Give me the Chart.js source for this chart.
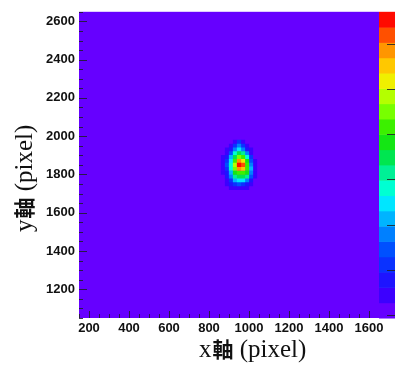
<!DOCTYPE html>
<html>
<head>
<meta charset="utf-8">
<script src="https://cdn.jsdelivr.net/npm/chart.js@4.4.0/dist/chart.umd.min.js"></script>
<style>
  body { margin: 0; background: #fff; }
  canvas { display: block; }
</style>
</head>
<body>
<canvas id="myChart" width="395" height="370"></canvas>
<script>
// axis ranges and tick labels
const xRange = [150, 1650];
const yRange = [1050, 2650];
const xTicks = [200, 400, 600, 800, 1000, 1200, 1400, 1600];
const yTicks = [1200, 1400, 1600, 1800, 2000, 2200, 2400, 2600];
// colour-axis ticks (in palette levels, labels fall outside the picture)
const zTicks = [0.2, 3.15, 6.1, 9.05, 12, 14.95, 17.9];
const zLevels = 20;

// bin centres (bin width 20 px on both axes)
const xBins = [870, 890, 910, 930, 950, 970, 990, 1010, 1030];
const yBins = [1970, 1950, 1930, 1910, 1890, 1870, 1850, 1830, 1810, 1790, 1770, 1750, 1730];
// content of each bin (palette level 0..19)
const counts = [
  [0, 0, 0, 1, 3, 1, 0, 0, 0],
  [0, 0, 1, 3, 5, 3, 1, 0, 0],
  [0, 1, 2, 5, 7, 5, 2, 1, 0],
  [0, 1, 4, 8, 10, 9, 5, 1, 0],
  [1, 2, 6, 10, 13, 12, 8, 3, 0],
  [1, 3, 7, 12, 17, 15, 11, 4, 1],
  [1, 4, 8, 14, 19, 18, 12, 5, 1],
  [1, 3, 8, 13, 17, 16, 12, 6, 1],
  [1, 2, 6, 11, 12, 12, 11, 5, 1],
  [0, 2, 5, 9, 10, 10, 9, 4, 1],
  [0, 1, 3, 6, 7, 7, 5, 2, 0],
  [0, 1, 2, 3, 4, 3, 2, 1, 0],
  [0, 0, 1, 1, 1, 1, 1, 0, 0]
];

// ROOT like rainbow palette, lowest level first
const palette = [
  '#6600ff', '#3c00ff', '#1e14ff', '#0a32ff', '#0050ff', '#0080ff', '#00b4ff', '#00e6ff',
  '#00ffd2', '#00f096', '#00e650', '#14e614', '#3cf000', '#78ff00', '#b4ff00', '#f0f000',
  '#ffc800', '#ff9600', '#ff5000', '#ff0a00'
];

const cells = [];
yBins.forEach((y, i) => {
  xBins.forEach((x, j) => {
    if (counts[i][j] > 0) cells.push({ x: x, y: y, v: counts[i][j] });
  });
});
cells.sort((a, b) => a.v - b.v);

const rootStyle = {
  id: 'rootStyle',
  beforeDatasetsDraw(chart) {
    const { ctx, chartArea: a } = chart;
    ctx.save();
    ctx.fillStyle = palette[0];
    ctx.fillRect(a.left, a.top, a.right - a.left, a.bottom - a.top);
    ctx.restore();
  },
  afterDatasetsDraw(chart) {
    const { ctx, chartArea: a, scales } = chart;
    ctx.save();
    ctx.strokeStyle = 'rgba(30,30,40,0.85)';
    ctx.lineWidth = 1;
    ctx.beginPath();
    // x ticks (inside the frame)
    for (let v = xTicks[0] - 50; v <= xRange[1]; v += 50) {
      if (v < xRange[0]) continue;
      const px = Math.round(scales.x.getPixelForValue(v)) + 0.5;
      const len = xTicks.includes(v) ? 7 : 4;
      ctx.moveTo(px, a.bottom);
      ctx.lineTo(px, a.bottom - len);
    }
    // y ticks
    for (let v = yTicks[0] - 150; v <= yRange[1]; v += 50) {
      if (v < yRange[0]) continue;
      const py = Math.round(scales.y.getPixelForValue(v)) + 0.5;
      const len = yTicks.includes(v) ? 8 : 4;
      ctx.moveTo(a.left, py);
      ctx.lineTo(a.left + len, py);
    }
    ctx.stroke();

    // colour bar
    const x0 = a.right;
    const w = chart.width - a.right;
    const h = (a.bottom - a.top) / zLevels;
    palette.forEach((c, i) => {
      ctx.fillStyle = c;
      ctx.fillRect(x0, a.bottom - (i + 1) * h, w, h + 0.5);
    });
    ctx.beginPath();
    zTicks.forEach(z => {
      const py = Math.round(a.bottom - z * h) + 0.5;
      ctx.moveTo(chart.width, py);
      ctx.lineTo(chart.width - 8, py);
    });
    ctx.stroke();
    ctx.restore();
  },
  afterDraw(chart) {
    const { ctx } = chart;
    const serif = '25px "Liberation Serif", "DejaVu Serif", serif';
    const kanji = 'bold 21px "Noto Sans CJK JP", sans-serif';
    const drawTitle = (letter) => {
      let x = 0;
      ctx.font = serif;
      ctx.fillText(letter, x, 0);
      x += ctx.measureText(letter).width + 1;
      ctx.font = kanji;
      ctx.fillText('軸', x, 0);
      x += ctx.measureText('軸').width;
      ctx.font = serif;
      ctx.fillText(' (pixel)', x, 0);
    };
    ctx.save();
    ctx.fillStyle = '#111';
    ctx.textBaseline = 'alphabetic';
    ctx.textAlign = 'left';
    ctx.save();
    ctx.translate(199, 357);
    drawTitle('x');
    ctx.restore();
    ctx.save();
    ctx.translate(32, 232);
    ctx.rotate(-Math.PI / 2);
    drawTitle('y');
    ctx.restore();
    ctx.restore();
  }
};

const tickFont = { family: '"Liberation Sans", Arial, sans-serif', size: 13, weight: 'bold' };

new Chart(
  document.getElementById('myChart'),
  {
    type: 'scatter',
    data: {
      datasets: [
        {
          label: 'counts',
          data: cells,
          pointStyle: 'rect',
          pointRadius: 3,
          pointHoverRadius: 3,
          pointBorderWidth: 0,
          pointBackgroundColor: ctx => palette[Math.min(ctx.raw.v, palette.length - 1)]
        }
      ]
    },
    options: {
      responsive: false,
      animation: false,
      events: [],
      layout: { padding: { top: 10, right: 16, left: 0, bottom: 0 } },
      plugins: {
        legend: { display: false },
        tooltip: { enabled: false }
      },
      scales: {
        x: {
          type: 'linear',
          min: xRange[0],
          max: xRange[1],
          afterBuildTicks: scale => { scale.ticks = xTicks.map(v => ({ value: v })); },
          afterFit: scale => { scale.height = 52; },
          grid: { display: false, drawTicks: false },
          border: { display: false },
          ticks: { font: tickFont, color: '#111', padding: 3, maxRotation: 0, autoSkip: false,
                   callback: v => String(v) }
        },
        y: {
          type: 'linear',
          min: yRange[0],
          max: yRange[1],
          afterBuildTicks: scale => { scale.ticks = yTicks.map(v => ({ value: v })); },
          afterFit: scale => { scale.width = 79; },
          grid: { display: false, drawTicks: false },
          border: { display: false },
          ticks: { font: tickFont, color: '#111', padding: 4, autoSkip: false,
                   callback: v => String(v) }
        }
      }
    },
    plugins: [rootStyle]
  }
);
</script>
</body>
</html>
